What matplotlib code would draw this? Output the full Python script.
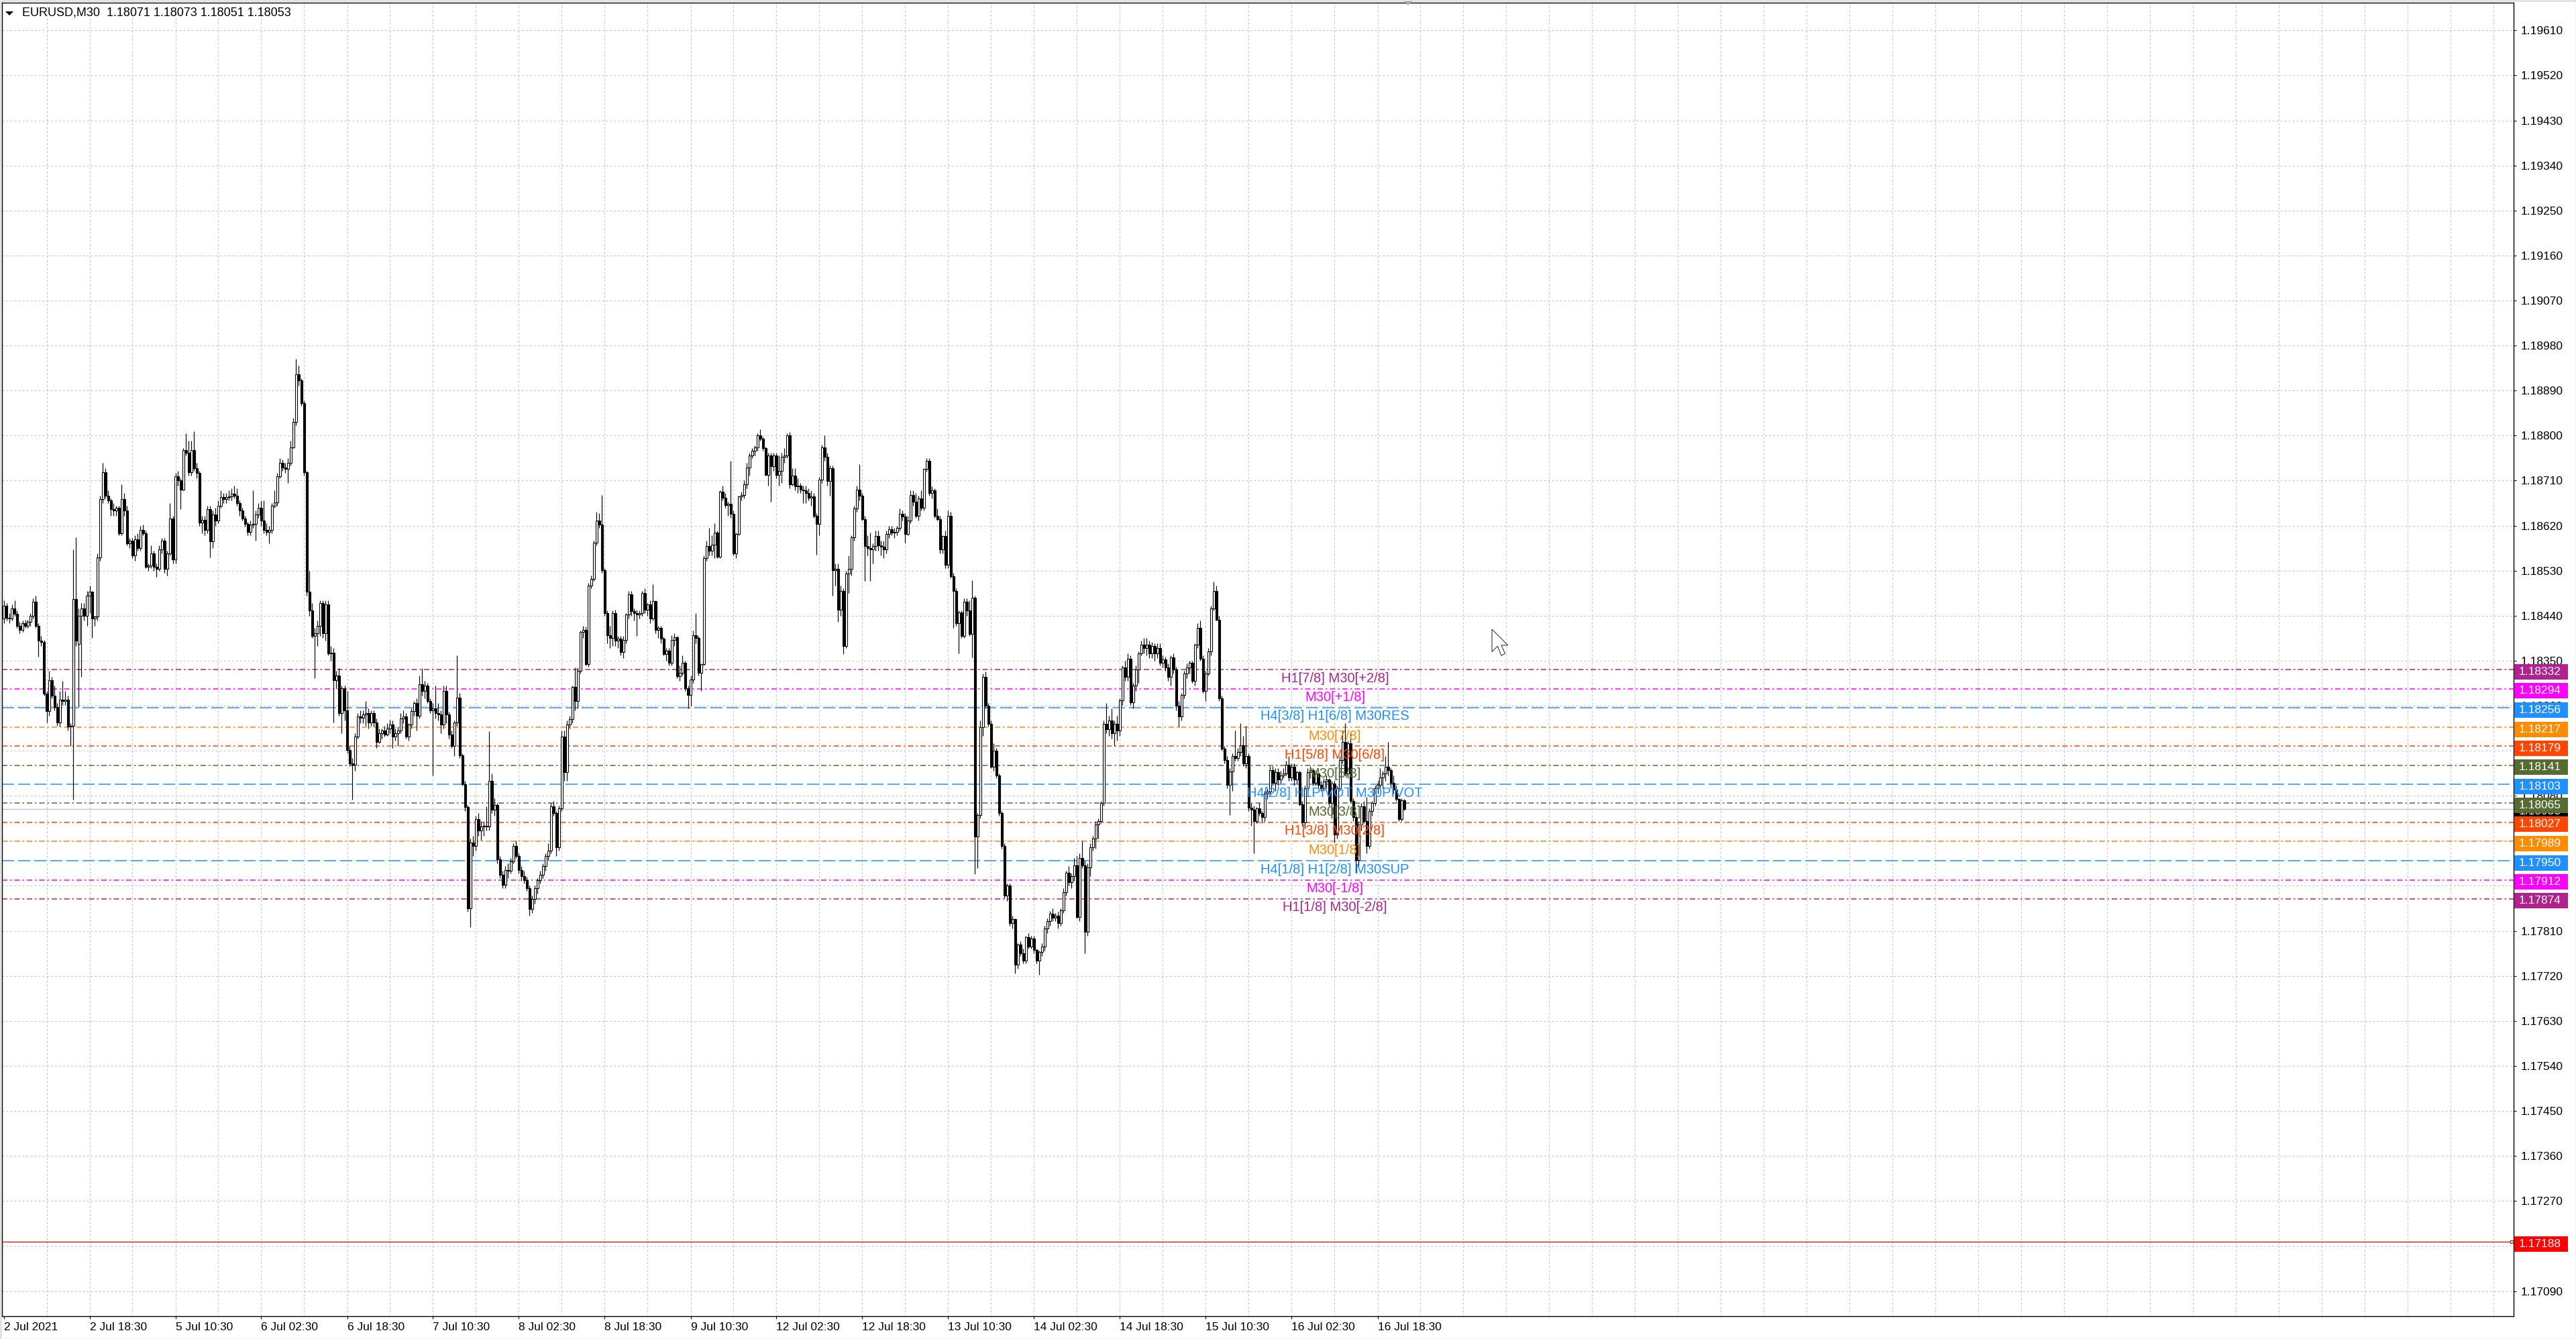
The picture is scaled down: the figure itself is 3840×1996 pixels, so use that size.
import numpy as np
import matplotlib
matplotlib.use('Agg')
import matplotlib.pyplot as plt
from matplotlib.patches import Rectangle, Polygon
from matplotlib.transforms import blended_transform_factory, IdentityTransform

plt.rcParams['font.family'] = ['Liberation Sans', 'DejaVu Sans']
plt.rcParams['lines.scale_dashes'] = False
plt.rcParams['axes.axisbelow'] = True

# ---------------- data (prices in points above 1.17000) ----------------
symbol_title = "EURUSD,M30  1.18071 1.18073 1.18051 1.18053"

open_pts = [
1434,1460,1436,1434,1455,1444,1420,1412,1425,1420,
1428,1440,1468,1420,1390,1388,1284,1249,1311,1280,
1257,1226,1272,1270,1272,1218,1220,1473,1384,1440,
1455,1440,1480,1488,1434,1438,1557,1673,1727,1680,
1670,1653,1650,1655,1605,1673,1650,1584,1590,1560,
1592,1575,1611,1605,1538,1540,1565,1538,1534,1573,
1590,1534,1565,1634,1552,1719,1711,1692,1771,1765,
1727,1771,1735,1725,1626,1632,1611,1653,1588,1642,
1630,1660,1677,1673,1677,1678,1684,1680,1665,1650,
1634,1623,1608,1622,1623,1642,1656,1630,1611,1608,
1612,1660,1667,1719,1746,1736,1733,1745,1777,1827,
1923,1910,1865,1727,1488,1450,1400,1405,1420,1465,
1405,1462,1365,1366,1311,1320,1245,1295,1250,1172,
1145,1142,1199,1238,1236,1242,1245,1226,1245,1226,
1188,1205,1210,1203,1215,1222,1199,1205,1211,1234,
1238,1199,1222,1249,1265,1240,1303,1290,1300,1270,
1250,1255,1245,1242,1222,1290,1242,1203,1180,1226,
1276,1161,1103,1057,855,987,980,1034,1010,1018,
1020,1018,1110,1052,1062,953,922,902,932,930,
949,980,960,932,919,912,895,854,874,895,
912,922,939,960,970,1059,1045,977,1055,1199,
1127,1223,1233,1298,1270,1330,1408,1412,1343,1500,
1514,1586,1630,1622,1531,1445,1401,1395,1445,1390,
1394,1367,1392,1442,1483,1449,1445,1442,1445,1486,
1452,1462,1435,1469,1411,1415,1394,1363,1370,1346,
1391,1397,1319,1326,1346,1295,1281,1312,1401,1395,
1326,1343,1555,1579,1570,1582,1606,1558,1688,1676,
1661,1664,1644,1565,1604,1678,1681,1702,1736,1760,
1770,1777,1801,1794,1775,1722,1760,1739,1760,1722,
1729,1757,1760,1801,1702,1720,1698,1700,1692,1690,
1685,1676,1678,1640,1623,1712,1777,1757,1709,1735,
1531,1534,1452,1490,1380,1524,1534,1596,1654,1692,
1680,1633,1579,1575,1572,1579,1599,1580,1578,1572,
1603,1613,1606,1608,1616,1644,1638,1603,1630,1681,
1668,1640,1674,1655,1733,1750,1685,1690,1640,1633,
1572,1599,1541,1640,1519,1490,1425,1447,1400,1468,
1450,1404,1476,998,1041,1217,1318,1260,1224,1138,
1170,1120,1045,980,880,900,826,833,743,783,
765,750,797,779,795,772,750,768,779,815,
829,844,836,840,826,851,887,926,908,919,
941,837,955,941,808,937,977,995,1023,1030,
1066,1224,1213,1231,1205,1224,1210,1271,1336,1318,
1354,1267,1300,1332,1364,1382,1375,1382,1365,1380,
1364,1375,1346,1352,1336,1318,1357,1332,1260,1239,
1282,1325,1336,1346,1310,1382,1415,1354,1289,1325,
1368,1454,1490,1432,1275,1174,1152,1102,1128,1160,
1156,1167,1181,1145,1160,1056,1052,1030,1055,1045,
1038,1084,1088,1131,1106,1127,1113,1120,1124,1142,
1117,1138,1113,1127,1063,1027,1095,1127,1131,1106,
1124,1102,1095,1109,1113,1066,1104,1002,1095,1152,
1188,1124,1185,1070,1038,951,1023,1059,1030,980,
1050,1066,1095,1102,1117,1124,1138,1131,1106,1092,
1073,1034,1071]

high_pts = [
1470,1465,1445,1462,1470,1450,1428,1430,1432,1432,
1445,1475,1480,1425,1400,1392,1290,1330,1318,1300,
1265,1290,1310,1290,1280,1225,1573,1596,1455,1465,
1465,1490,1500,1490,1440,1565,1680,1746,1735,1690,
1675,1665,1660,1660,1703,1685,1660,1595,1595,1600,
1605,1620,1622,1610,1545,1580,1570,1545,1580,1595,
1595,1570,1665,1640,1725,1730,1715,1775,1805,1790,
1790,1808,1745,1730,1640,1640,1660,1660,1650,1655,
1670,1690,1685,1685,1690,1695,1700,1695,1670,1655,
1640,1628,1630,1690,1650,1665,1670,1670,1625,1620,
1665,1690,1725,1755,1752,1745,1755,1790,1835,1954,
1940,1915,1870,1730,1530,1465,1415,1430,1470,1470,
1470,1470,1380,1375,1330,1335,1300,1300,1290,1180,
1155,1205,1245,1250,1250,1270,1255,1250,1250,1235,
1215,1215,1220,1225,1232,1230,1215,1218,1245,1250,
1245,1225,1255,1270,1275,1320,1335,1310,1305,1275,
1265,1300,1265,1250,1300,1300,1248,1210,1230,1360,
1285,1165,1110,1062,995,1000,1040,1045,1030,1030,
1059,1209,1125,1075,1065,960,930,940,945,955,
985,990,965,940,930,918,900,880,900,915,
930,945,965,985,1065,1070,1050,1060,1210,1210,
1230,1240,1300,1336,1336,1410,1420,1418,1505,1520,
1590,1647,1645,1681,1535,1450,1420,1450,1452,1400,
1400,1400,1445,1490,1490,1455,1452,1450,1490,1495,
1465,1470,1503,1470,1420,1420,1398,1375,1375,1401,
1405,1400,1340,1360,1350,1300,1320,1410,1445,1400,
1345,1560,1590,1615,1600,1625,1610,1690,1700,1685,
1668,1750,1650,1606,1680,1688,1710,1745,1765,1775,
1780,1805,1812,1798,1778,1765,1765,1765,1765,1760,
1765,1775,1805,1807,1735,1735,1715,1705,1700,1700,
1695,1690,1685,1645,1718,1782,1801,1765,1740,1740,
1545,1545,1500,1495,1530,1560,1600,1660,1700,1743,
1685,1640,1600,1606,1585,1610,1610,1590,1590,1610,
1620,1620,1616,1620,1654,1650,1645,1640,1690,1690,
1685,1680,1690,1735,1755,1755,1698,1695,1654,1640,
1600,1610,1650,1648,1525,1495,1450,1450,1475,1475,
1470,1511,1480,1045,1230,1325,1328,1265,1230,1185,
1175,1125,1050,985,905,905,840,835,785,790,
775,800,805,800,800,775,770,785,820,835,
850,855,845,848,855,895,930,940,925,955,
960,965,990,950,945,985,1000,1030,1035,1070,
1230,1265,1240,1255,1230,1240,1275,1340,1350,1365,
1360,1305,1340,1368,1390,1395,1395,1390,1388,1385,
1385,1385,1360,1358,1345,1360,1365,1338,1270,1285,
1330,1345,1350,1350,1385,1425,1430,1360,1330,1375,
1460,1508,1500,1440,1280,1180,1160,1135,1165,1210,
1175,1225,1200,1220,1165,1065,1060,1058,1065,1050,
1090,1095,1140,1140,1135,1135,1130,1135,1150,1160,
1145,1145,1130,1130,1070,1100,1135,1140,1135,1130,
1130,1110,1115,1120,1115,1110,1110,1100,1160,1210,
1225,1190,1205,1075,1045,1030,1065,1070,1078,1055,
1070,1100,1110,1135,1130,1160,1188,1135,1120,1100,
1075,1075,1073]

low_pts = [
1425,1430,1425,1430,1440,1415,1405,1408,1415,1415,
1420,1435,1415,1358,1380,1280,1226,1240,1275,1250,
1220,1218,1262,1262,1210,1180,1072,1380,1257,1318,
1430,1420,1445,1395,1420,1430,1550,1665,1675,1665,
1640,1640,1640,1600,1600,1640,1580,1575,1555,1550,
1570,1570,1600,1535,1530,1535,1530,1518,1530,1565,
1525,1520,1560,1545,1545,1700,1653,1690,1760,1720,
1720,1730,1715,1620,1605,1600,1605,1557,1575,1620,
1625,1655,1665,1665,1670,1670,1675,1660,1640,1630,
1618,1600,1600,1615,1590,1635,1620,1605,1600,1585,
1605,1655,1660,1715,1730,1725,1705,1740,1775,1820,
1900,1860,1720,1480,1440,1395,1315,1380,1400,1395,
1390,1360,1350,1226,1295,1240,1205,1230,1165,1140,
1072,1130,1195,1225,1225,1220,1215,1220,1218,1175,
1185,1195,1198,1200,1205,1175,1190,1180,1205,1225,
1195,1190,1215,1240,1210,1235,1280,1275,1265,1245,
1120,1235,1230,1205,1215,1225,1195,1175,1160,1220,
1155,1100,1050,849,818,960,970,1000,990,1000,
1010,1010,1045,1040,945,915,895,895,915,925,
945,955,925,910,905,890,840,845,865,885,
905,915,930,950,965,1040,960,970,1050,1110,
1110,1215,1225,1250,1255,1325,1395,1340,1338,1495,
1510,1580,1615,1525,1440,1385,1375,1380,1380,1375,
1360,1355,1385,1435,1440,1430,1400,1435,1440,1445,
1440,1425,1430,1405,1395,1385,1360,1350,1340,1340,
1380,1315,1310,1320,1290,1255,1260,1305,1385,1320,
1290,1340,1550,1560,1560,1555,1555,1555,1670,1655,
1640,1635,1560,1555,1600,1670,1675,1695,1720,1755,
1760,1770,1790,1770,1720,1700,1668,1730,1715,1700,
1705,1745,1755,1695,1700,1690,1685,1685,1665,1665,
1670,1660,1635,1562,1600,1705,1750,1700,1680,1480,
1500,1428,1440,1363,1375,1485,1520,1590,1648,1670,
1630,1510,1560,1510,1545,1570,1570,1560,1555,1565,
1595,1600,1595,1600,1610,1630,1586,1600,1625,1660,
1635,1630,1650,1650,1728,1680,1675,1635,1630,1565,
1565,1535,1535,1515,1415,1420,1364,1395,1395,1440,
1400,1357,923,935,1035,1200,1255,1218,1135,1130,
1115,1040,975,875,870,820,815,725,735,760,
745,745,775,775,765,745,722,760,770,805,
820,830,830,815,820,845,880,900,895,910,
835,830,935,765,800,920,970,975,995,1025,
1060,1205,1200,1195,1180,1190,1200,1262,1310,1310,
1262,1255,1290,1305,1360,1365,1360,1355,1355,1350,
1355,1340,1336,1330,1310,1300,1325,1250,1217,1230,
1275,1315,1325,1305,1300,1375,1350,1285,1270,1320,
1360,1450,1430,1270,1170,1145,1095,1041,1090,1150,
1150,1160,1140,1135,1050,1020,965,1025,1040,1025,
1030,1075,1080,1100,1090,1100,1105,1115,1120,1110,
1110,1100,1105,1060,1020,1015,1090,1115,1100,1100,
1095,1090,1090,1095,1060,1035,987,995,1090,1145,
1120,1115,1065,1030,926,940,1010,1025,965,975,
1040,1060,1085,1095,1095,1110,1120,1095,1085,1070,
1030,1030,1051]

close_pts = [
1460,1436,1434,1455,1444,1420,1412,1425,1420,1428,
1440,1468,1420,1390,1388,1284,1249,1311,1280,1257,
1226,1272,1270,1272,1218,1220,1473,1390,1440,1455,
1440,1480,1488,1434,1438,1557,1673,1727,1680,1670,
1653,1650,1655,1605,1673,1650,1584,1590,1560,1592,
1575,1611,1605,1538,1540,1565,1538,1534,1573,1590,
1534,1565,1634,1552,1719,1711,1692,1771,1765,1727,
1771,1735,1725,1626,1632,1611,1653,1588,1642,1630,
1660,1677,1673,1677,1678,1684,1680,1665,1650,1634,
1623,1608,1622,1623,1642,1656,1630,1611,1608,1612,
1660,1667,1719,1746,1736,1733,1745,1777,1827,1923,
1910,1865,1727,1488,1450,1400,1405,1420,1465,1405,
1462,1365,1366,1311,1320,1245,1295,1250,1172,1145,
1142,1199,1238,1236,1242,1245,1226,1245,1226,1188,
1205,1210,1203,1215,1222,1199,1205,1211,1234,1238,
1199,1222,1249,1265,1240,1303,1290,1300,1270,1250,
1255,1245,1242,1222,1290,1242,1203,1180,1226,1276,
1161,1103,1057,855,987,980,1034,1010,1018,1020,
1018,1110,1052,1062,953,922,902,932,930,949,
980,960,932,919,912,895,854,874,895,912,
922,939,960,970,1059,1045,977,1055,1199,1127,
1223,1233,1298,1270,1330,1408,1412,1343,1500,1514,
1586,1630,1622,1531,1445,1401,1395,1445,1390,1394,
1367,1392,1442,1483,1449,1445,1442,1445,1486,1452,
1462,1435,1469,1411,1415,1394,1363,1370,1346,1391,
1397,1319,1326,1346,1295,1281,1312,1401,1395,1326,
1343,1555,1579,1570,1582,1606,1558,1688,1676,1661,
1664,1644,1565,1604,1678,1681,1702,1736,1760,1770,
1777,1801,1794,1775,1722,1760,1739,1760,1722,1729,
1757,1760,1801,1702,1720,1698,1700,1692,1690,1685,
1676,1678,1640,1623,1712,1777,1757,1709,1735,1531,
1534,1452,1490,1380,1524,1534,1596,1654,1692,1680,
1633,1579,1575,1572,1579,1599,1580,1578,1572,1603,
1613,1606,1608,1616,1644,1638,1603,1630,1681,1668,
1640,1674,1655,1733,1750,1685,1690,1640,1633,1572,
1599,1541,1640,1519,1490,1425,1447,1400,1468,1450,
1404,1476,998,1041,1217,1318,1260,1224,1138,1170,
1120,1045,980,880,900,826,833,743,783,765,
750,797,779,795,772,750,768,779,815,829,
844,836,840,826,851,887,926,908,919,941,
837,955,941,808,937,977,995,1023,1030,1066,
1224,1213,1231,1205,1224,1210,1271,1336,1318,1354,
1267,1300,1332,1364,1382,1375,1382,1365,1380,1364,
1375,1346,1352,1336,1318,1357,1332,1260,1239,1282,
1325,1336,1346,1310,1382,1415,1354,1289,1325,1368,
1454,1490,1432,1275,1174,1152,1102,1128,1160,1156,
1167,1181,1145,1160,1056,1052,1030,1055,1045,1038,
1084,1088,1131,1106,1127,1113,1120,1124,1142,1117,
1138,1113,1127,1063,1027,1095,1127,1131,1106,1124,
1102,1095,1109,1113,1066,1104,1002,1095,1152,1188,
1124,1185,1070,1038,951,1023,1059,1030,980,1050,
1066,1095,1102,1117,1124,1138,1131,1106,1092,1073,
1034,1071,1053]

base_price = 1.17000

time_labels = ["2 Jul 2021", "2 Jul 18:30", "5 Jul 10:30", "6 Jul 02:30", "6 Jul 18:30",
               "7 Jul 10:30", "8 Jul 02:30", "8 Jul 18:30", "9 Jul 10:30", "12 Jul 02:30",
               "12 Jul 18:30", "13 Jul 10:30", "14 Jul 02:30", "14 Jul 18:30", "15 Jul 10:30",
               "16 Jul 02:30", "16 Jul 18:30"]
bars_per_label = 32

level_prices = [1.18332, 1.18294, 1.18256, 1.18217, 1.18179, 1.18141, 1.18103,
                1.18065, 1.18027, 1.17989, 1.17950, 1.17912, 1.17874]
level_names = ["H1[7/8] M30[+2/8]", "M30[+1/8]", "H4[3/8] H1[6/8] M30RES", "M30[7/8]",
               "H1[5/8] M30[6/8]", "M30[5/8]", "H4[2/8] H1PIVOT M30PIVOT", "M30[3/8]",
               "H1[3/8] M30[2/8]", "M30[1/8]", "H4[1/8] H1[2/8] M30SUP", "M30[-1/8]",
               "H1[1/8] M30[-2/8]"]
level_colors = ["#B0228C", "#FF00FF", "#1E90FF", "#FF8C00", "#FF4500", "#556B2F", "#1E90FF",
                "#556B2F", "#FF4500", "#FF8C00", "#1E90FF", "#FF00FF", "#B0228C"]
level_styles = ["dashdot", "dashdot", "dash", "dashdot", "dashdot", "dashdot", "dash",
                "dashdot", "dashdot", "dashdot", "dash", "dashdot", "dashdot"]

bid_price = 1.18053
alert_price = 1.17188
y_tick_start, y_tick_step, y_tick_count = 1.17090, 0.00090, 29

# ---------------- layout (pixel calibration of the MT4 window) ----------------
W, H = 3840, 1996
DPI = 100
PX_PER_PRICE = 74570.0
Y_REF_PX, Y_REF_PRICE = 1924.5, 1.17090
L_px, R_px, T_px, B_px = 3.0, 3746.5, 4.0, 1962.0
X0_px, BAR_PX = 5.5, 4.0

def px_to_price(ypx):
    return Y_REF_PRICE + (Y_REF_PX - ypx) / PX_PER_PRICE

def px_to_bar(xpx):
    return (xpx - X0_px) / BAR_PX

n = len(close_pts)
for name, arr in (("open", open_pts), ("high", high_pts), ("low", low_pts)):
    if len(arr) != n:
        raise ValueError(f"{name} has {len(arr)} values, close has {n}")

o = base_price + np.array(open_pts) / 1e5
c = base_price + np.array(close_pts) / 1e5
hi = base_price + np.array(high_pts) / 1e5
lo = base_price + np.array(low_pts) / 1e5
hi = np.maximum(hi, np.maximum(o, c))
lo = np.minimum(lo, np.minimum(o, c))
x = np.arange(n)

fig = plt.figure(figsize=(W / DPI, H / DPI), dpi=DPI)
fig.patch.set_facecolor('white')
ax = fig.add_axes([L_px / W, 1 - B_px / H, (R_px - L_px) / W, (B_px - T_px) / H])
ax.set_facecolor('white')
ax.set_xlim(px_to_bar(L_px), px_to_bar(R_px))
ax.set_ylim(px_to_price(B_px), px_to_price(T_px))

PT = 72.0 / DPI  # points per pixel

# y scale and grid
yt = np.round(y_tick_start + y_tick_step * np.arange(y_tick_count), 5)
ax.set_yticks(yt)
ax.set_yticklabels([f"{v:.5f}" for v in yt])
ax.yaxis.tick_right()
ax.tick_params(axis='y', which='major', length=4 * PT, width=0.8, pad=7 * PT,
               labelsize=12.5, colors='black', right=True, left=False)

# x scale: grid every 16 bars (major, unlabeled), labelled ticks every 32 bars (minor)
ax.xaxis.remove_overlapping_locs = False
grid_x = np.arange(16, px_to_bar(R_px), 16)
ax.set_xticks(grid_x)
ax.tick_params(axis='x', which='major', length=0, labelbottom=False)
label_pos = np.arange(len(time_labels)) * bars_per_label
ax.set_xticks(label_pos, labels=time_labels, minor=True)
ax.tick_params(axis='x', which='minor', length=4 * PT, width=0.8, pad=5 * PT,
               labelsize=12.5, colors='black', labelbottom=True)
for t in ax.get_xticklabels(minor=True):
    t.set_ha('left')

ax.grid(True, which='major', color='#C4C4C4', linestyle=(0, (3 * PT, 3 * PT)), lw=0.75)
ax.grid(False, which='minor')

for s in ax.spines.values():
    s.set_color('black')
    s.set_linewidth(1.0)

# level lines
for p, col, st in zip(level_prices, level_colors, level_styles):
    if st == 'dash':
        dash = (0, (18 * PT, 6 * PT))
    else:
        dash = (0, (8 * PT, 4 * PT, 2.5 * PT, 4 * PT))
    ax.axhline(p, color=col, lw=1.1, linestyle=dash, zorder=2)

# bid line and alert line
ax.axhline(bid_price, color='#C0C0C0', lw=0.9, zorder=1.9)
ax.axhline(alert_price, color='#C81E1E', lw=1.0, zorder=2)
ax.plot([px_to_bar(3744)], [alert_price], marker='s', ms=3.3, mfc='white',
        mec='#C81E1E', mew=0.9, zorder=5, clip_on=False)

# candles
ax.vlines(x, lo, hi, color='black', lw=0.85, zorder=3)
up = c >= o
bottom = np.minimum(o, c)
height = np.maximum(np.abs(c - o), 0.000012)
ax.bar(x[up], height[up], bottom=bottom[up], width=0.62, color='white',
       edgecolor='black', lw=0.8, zorder=4)
ax.bar(x[~up], height[~up], bottom=bottom[~up], width=0.62, color='black',
       edgecolor='black', lw=0.8, zorder=4)

# level labels inside chart
label_x = px_to_bar(1990)
for p, name, col in zip(level_prices, level_names, level_colors):
    ax.annotate(name, xy=(label_x, p), xytext=(0, -2.5), textcoords='offset points',
                ha='center', va='top', fontsize=14.5, color=col, zorder=6)

# price boxes on the right scale
trans = blended_transform_factory(IdentityTransform(), ax.transData)
box_h = 23 / PX_PER_PRICE
box_shift = 3 / PX_PER_PRICE

def price_box(p, col, z):
    yc = p - box_shift
    r = Rectangle((3748, yc - box_h / 2), 80, box_h, transform=trans, facecolor=col,
                  edgecolor='none', clip_on=False, zorder=z)
    ax.add_artist(r)
    ax.text(3755, yc, f"{p:.5f}", transform=trans, ha='left', va='center',
            fontsize=12.5, color='white', clip_on=False, zorder=z + 0.1)

price_box(bid_price, '#000000', 9)
for p, col in zip(level_prices, level_colors):
    price_box(p, col, 10)
price_box(alert_price, '#FF0000', 10)

# title
fig.text(33 / W, 1 - 19.5 / H, symbol_title, fontsize=13, ha='left', va='center', color='black')
fig.add_artist(Polygon([(8, H - 17), (20, H - 17), (14, H - 23)], closed=True,
                       transform=IdentityTransform(), facecolor='black', edgecolor='none'))
# chart shift marker
fig.add_artist(Polygon([(2092, H - 1), (2106, H - 1), (2099, H - 8)], closed=True,
                       transform=IdentityTransform(), facecolor='#A8A8A8', edgecolor='none'))
# mouse pointer
cur = np.array([(0, 0), (0, 24), (6, 18), (10, 28), (14, 26), (10, 17), (17, 17)]) * 1.4
cur_xy = [(2224 + dx, H - (938 + dy)) for dx, dy in cur]
fig.add_artist(Polygon(cur_xy, closed=True, transform=IdentityTransform(),
                       facecolor='white', edgecolor='#505050', lw=0.9, zorder=20))
# window frame
fig.add_artist(Rectangle((0.5, 0.5), W - 1, H - 1, transform=IdentityTransform(),
                         fill=False, edgecolor='#C8C8C8', lw=1.0))

fig.savefig('out.png', dpi=DPI, facecolor='white')
